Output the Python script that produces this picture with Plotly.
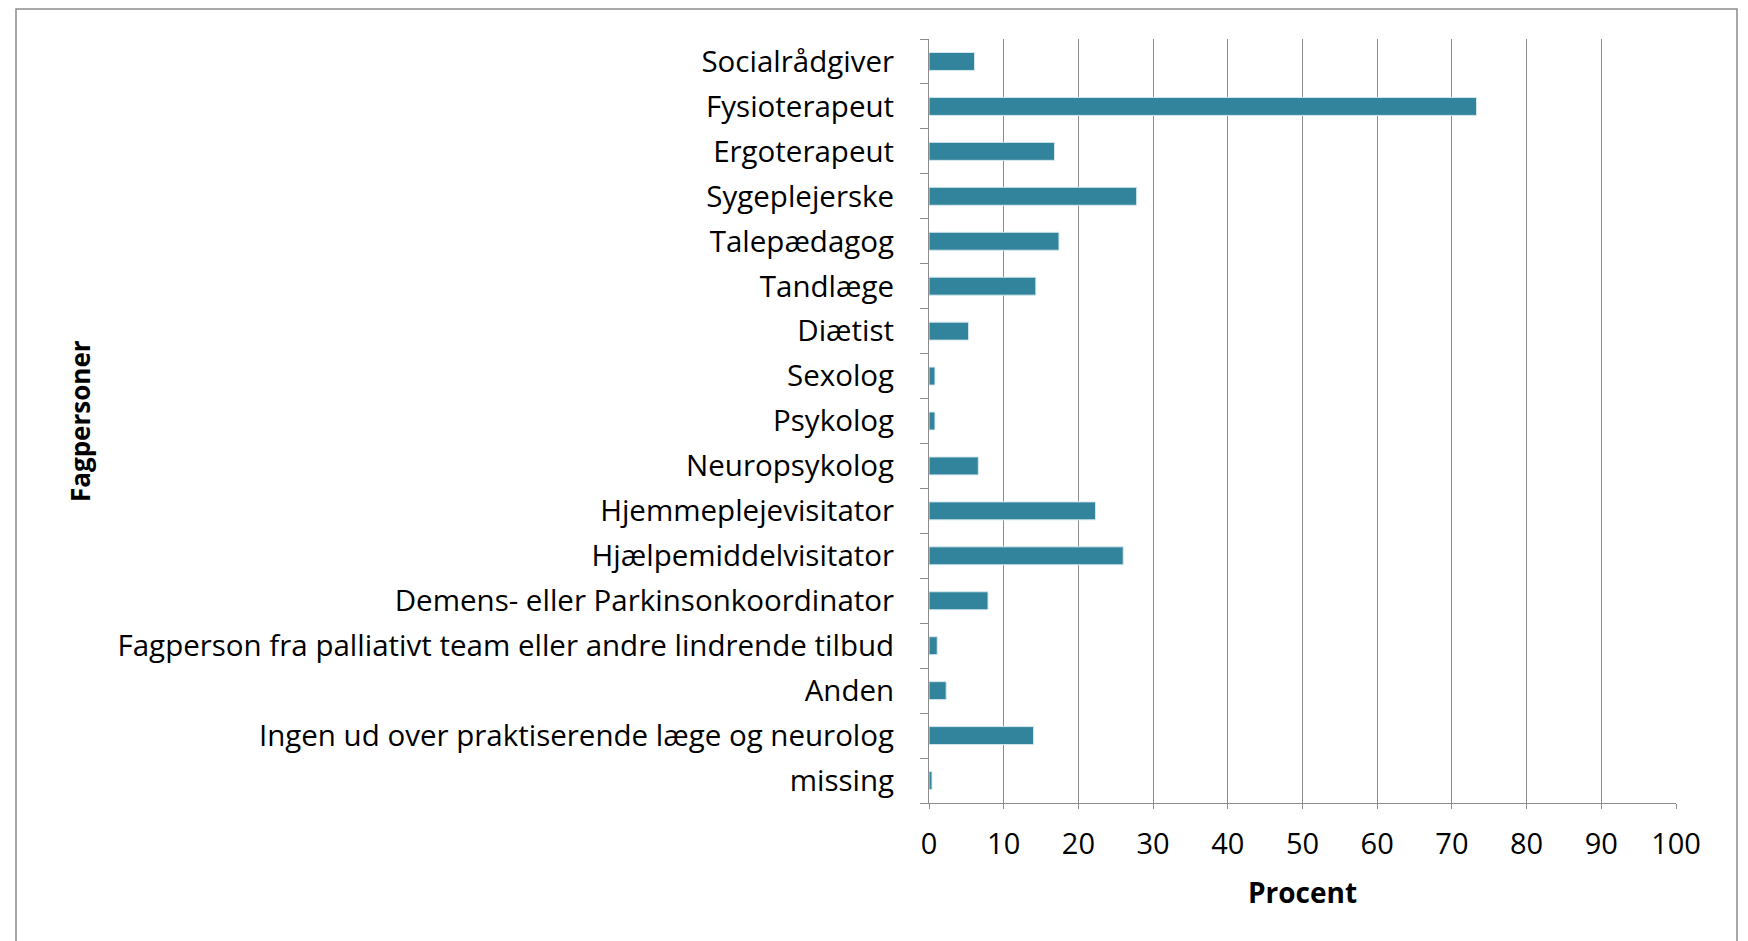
import plotly.graph_objects as go

categories = [
    "Socialrådgiver", "Fysioterapeut", "Ergoterapeut", "Sygeplejerske",
    "Talepædagog", "Tandlæge", "Diætist", "Sexolog", "Psykolog",
    "Neuropsykolog", "Hjemmeplejevisitator", "Hjælpemiddelvisitator",
    "Demens- eller Parkinsonkoordinator",
    "Fagperson fra palliativt team eller andre lindrende tilbud",
    "Anden", "Ingen ud over praktiserende læge og neurolog", "missing",
]
values = [6.1, 73.3, 16.8, 27.8, 17.4, 14.3, 5.3, 0.8, 0.8,
          6.6, 22.3, 26.0, 7.9, 1.1, 2.3, 14.0, 0.4]
x_ticks = [0, 10, 20, 30, 40, 50, 60, 70, 80, 90, 100]

W, H = 1748, 941
L, R, T, B = 921, 80, 31, 146

FONT = "Open Sans"
GRID = "#8c8c8c"

fig = go.Figure(go.Bar(
    x=values, y=categories, orientation="h",
    marker=dict(color="#31849b", line=dict(color="#d6e8ee", width=1)),
    width=0.4,
))

fig.update_layout(
    width=W, height=H,
    margin=dict(l=L, r=R, t=T, b=B, autoexpand=False),
    paper_bgcolor="white", plot_bgcolor="white",
    showlegend=False,
    font=dict(family=FONT, size=29, color="black"),
    xaxis=dict(
        range=[0, 100], tickvals=x_ticks, ticktext=[str(v) for v in x_ticks],
        showgrid=True, gridcolor=GRID, gridwidth=1,
        showline=True, linecolor=GRID, linewidth=1,
        ticks="outside", ticklen=5, tickcolor=GRID,
        ticklabelstandoff=10,
        zeroline=False, fixedrange=True,
        tickfont=dict(family=FONT, size=29),
        title=dict(text="<b>Procent</b>", font=dict(family=FONT, size=28), standoff=22),
        automargin=False,
    ),
    yaxis=dict(
        categoryorder="array", categoryarray=categories[::-1],
        range=[-0.5, len(categories) - 0.5],
        showline=True, linecolor=GRID, linewidth=1,
        ticks="outside", ticklen=8, tickcolor=GRID, tickson="boundaries",
        ticklabelstandoff=28,
        showgrid=False, zeroline=False, fixedrange=True,
        tickfont=dict(family=FONT, size=29.5),
        automargin=False,
    ),
    shapes=[dict(type="rect", xref="paper", yref="paper",
                 x0=(8 - L) / (W - L - R), x1=(1729 - L) / (W - L - R),
                 y0=(H - B - 960) / (H - T - B), y1=(H - B - 1) / (H - T - B),
                 line=dict(color="#8c8c8c", width=1.5), fillcolor="rgba(0,0,0,0)",
                 layer="below")],
    annotations=[dict(text="<b>Fagpersoner</b>", textangle=-90,
                      xref="paper", yref="paper",
                      x=(72 - L) / (W - L - R), y=0.5,
                      xanchor="center", yanchor="middle", showarrow=False,
                      font=dict(family=FONT, size=26))],
)

fig.write_html("out.html")
